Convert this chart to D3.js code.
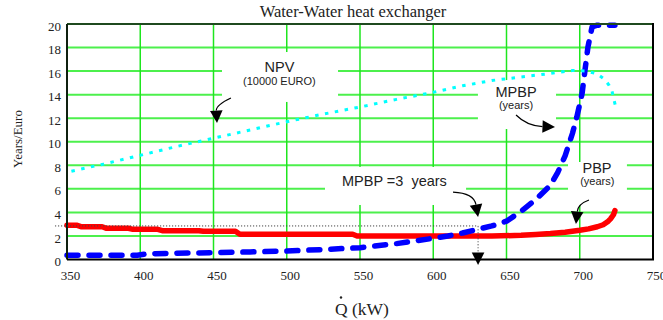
<!DOCTYPE html>
<html><head><meta charset="utf-8">
<script src="https://cdn.jsdelivr.net/npm/d3@7"></script>
<style>body{margin:0;background:#fff} svg{display:block}
.serif{font-family:"Liberation Serif","Times New Roman",serif}
.sans{font-family:"Liberation Sans",Arial,sans-serif}
</style>
</head><body><svg id="c" width="663" height="320"></svg>
<script>
// ---- data ----
const xTicks = [350, 400, 450, 500, 550, 600, 650, 700, 750];
const yTicks = [0, 2, 4, 6, 8, 10, 12, 14, 16, 18, 20];

const npvQ = [353, 375, 400, 425, 450, 475, 500, 525, 550, 575, 600, 620, 640, 660, 680, 695, 705, 712, 717, 720, 722, 723.5, 725];
const npvV = [7.5, 8.1, 8.85, 9.6, 10.3, 11.0, 11.7, 12.35, 12.95, 13.6, 14.2, 14.75, 15.2, 15.5, 15.8, 16.05, 16.0, 15.75, 15.3, 14.8, 14.3, 13.5, 12.7];

const mpbpQ = [350, 375, 398, 405, 420, 450, 475, 500, 525, 550, 575, 600, 610, 620, 630, 640, 650, 660, 670, 680, 685, 690, 695, 698, 701.6, 703.6, 705.6, 708.4, 712, 718, 724];
const mpbpV = [0.36, 0.36, 0.36, 0.48, 0.52, 0.58, 0.64, 0.72, 0.85, 1.0, 1.35, 1.8, 2.0, 2.25, 2.55, 2.85, 3.25, 4.1, 5.1, 6.3, 7.4, 8.8, 10.7, 12.1, 14.1, 16.1, 18.05, 19.75, 19.9, 19.9, 19.9];

const pbpQ = [350, 357, 360, 374, 377, 392, 395, 412, 415, 440, 443, 465, 468, 545, 548, 600, 640, 660, 670, 680, 690, 700, 706, 712, 716, 719, 721, 723, 724];
const pbpV = [2.9, 2.9, 2.78, 2.78, 2.65, 2.65, 2.56, 2.56, 2.45, 2.45, 2.4, 2.4, 2.15, 2.15, 2.0, 2.0, 2.0, 2.05, 2.12, 2.2, 2.32, 2.48, 2.6, 2.78, 2.95, 3.2, 3.45, 3.8, 4.15];

const mpbpTarget = 2.85;   // dotted reference level
const mpbpTargetQ = 630.6; // Q where MPBP reaches it

// ---- setup ----
const svg = d3.select("#c");
const x = d3.scaleLinear().domain([350, 750]).range([67, 653]);
const y = d3.scaleLinear().domain([0, 20]).range([259.5, 24]);

// gridlines
svg.append("g").selectAll("line").data(yTicks.filter(v => v > 0 && v < 20)).join("line")
  .attr("x1", x(350)).attr("x2", x(750)).attr("y1", d => y(d)).attr("y2", d => y(d))
  .attr("stroke", "#4cf04c").attr("stroke-width", 2);
svg.append("g").selectAll("line").data(xTicks.filter(v => v > 350 && v < 750)).join("line")
  .attr("y1", y(0)).attr("y2", y(20)).attr("x1", d => x(d)).attr("x2", d => x(d))
  .attr("stroke", "#1ee61e").attr("stroke-width", 1.5);

// white label boxes (hide gridlines)
const boxes = [
  [455.8, 535, 17.62, 13.38],
  [630.5, 683.8, 15.24, 11.08],
  [526.1, 622.4, 7.86, 4.63],
  [692, 732.2, 8.28, 4.54]
];
svg.append("g").selectAll("rect").data(boxes).join("rect")
  .attr("x", d => x(d[0])).attr("width", d => x(d[1]) - x(d[0]))
  .attr("y", d => y(d[2])).attr("height", d => y(d[3]) - y(d[2]))
  .attr("fill", "#fff");

// series
const line = d3.line().x(d => x(d[0])).y(d => y(d[1]));
svg.append("path").datum(d3.zip(pbpQ, pbpV)).attr("d", line)
  .attr("fill", "none").attr("stroke", "#ff0000").attr("stroke-width", 5.5)
  .attr("stroke-linejoin", "round").attr("stroke-linecap", "round");
svg.append("path").datum(d3.zip(mpbpQ, mpbpV)).attr("d", line)
  .attr("fill", "none").attr("stroke", "#0000ff").attr("stroke-width", 5.5)
  .attr("stroke-dasharray", "11,11").attr("stroke-linecap", "round").attr("stroke-linejoin", "round");
svg.append("path").datum(d3.zip(npvQ, npvV)).attr("d", line)
  .attr("fill", "none").attr("stroke", "#00ffff").attr("stroke-width", 3)
  .attr("stroke-dasharray", "3.5,6.5");

// frame
svg.append("line").attr("x1", x(350)).attr("x2", x(750)).attr("y1", y(20)).attr("y2", y(20)).attr("stroke", "#1f4a1f").attr("stroke-width", 2);
svg.append("line").attr("x1", x(350)).attr("x2", x(350)).attr("y1", y(20)).attr("y2", y(0)).attr("stroke", "#0f200f").attr("stroke-width", 2);
svg.append("line").attr("x1", x(750)).attr("x2", x(750)).attr("y1", y(20) - 1).attr("y2", y(0)).attr("stroke", "#000").attr("stroke-width", 2);
svg.append("line").attr("x1", x(350)).attr("x2", x(750) + 1).attr("y1", y(0)).attr("y2", y(0)).attr("stroke", "#000").attr("stroke-width", 2);

// axes tick labels
const gx = svg.append("g").attr("transform", `translate(0,${y(0)})`)
  .call(d3.axisBottom(x).tickValues(xTicks).tickSize(0).tickPadding(11).tickFormat(d3.format("d")));
gx.select(".domain").remove();
gx.attr("font-family", null).attr("font-size", null);
gx.selectAll("text").attr("class", "serif").style("font-size", "13px").attr("fill", "#222").attr("dx", 3);
const gy = svg.append("g").attr("transform", `translate(${x(350)},0)`)
  .call(d3.axisLeft(y).tickValues(yTicks).tickSize(0).tickPadding(6).tickFormat(d3.format("d")));
gy.select(".domain").remove();
gy.attr("font-family", null).attr("font-size", null);
gy.selectAll("text").attr("class", "serif").style("font-size", "13px").attr("fill", "#222").attr("dy", "0.47em");

// titles
svg.append("text").attr("class", "serif").attr("x", 353).attr("y", 17).attr("text-anchor", "middle")
  .style("font-size", "16.5px").attr("fill", "#222").text("Water-Water heat exchanger");
svg.append("text").attr("class", "serif").attr("transform", "translate(21.5,139) rotate(-90)").attr("text-anchor", "middle")
  .style("font-size", "13px").attr("fill", "#222").text("Years/Euro");
svg.append("text").attr("class", "serif").attr("x", 335).attr("y", 315)
  .style("font-size", "17.5px").attr("fill", "#222").text("Q (kW)");
svg.append("circle").attr("cx", 341).attr("cy", 297.5).attr("r", 1.2).attr("fill", "#222");

// annotation labels
function label(q, v, txt, size, anchor) {
  svg.append("text").attr("class", "sans").attr("x", x(q)).attr("y", y(v)).attr("text-anchor", anchor || "middle")
    .style("font-size", size + "px").attr("fill", "#222")
    .style("white-space", "pre").text(txt);
}
label(495, 15.92, "NPV", 14.5);
label(495, 14.82, "(10000 EURO)", 11);
label(656.5, 13.8, "MPBP", 14.5);
label(656.5, 12.78, "(years)", 11);
label(537.7, 6.24, "MPBP =3  years", 14.5, "start");
label(711.8, 7.37, "PBP", 14.5);
label(712, 6.33, "(years)", 11);

// arrows
function arrow(s, c, t, dashed) {
  const sx = x(s[0]), sy = y(s[1]), cx = x(c[0]), cy = y(c[1]), tx = x(t[0]), ty = y(t[1]);
  let dx = tx - cx, dy = ty - cy; const L = Math.hypot(dx, dy); dx /= L; dy /= L;
  const hl = 12.5, hw = 6.3;
  const bx = tx - dx * hl, by = ty - dy * hl;
  const p = d3.path(); p.moveTo(sx, sy); p.quadraticCurveTo(cx, cy, bx, by);
  svg.append("path").attr("d", p.toString()).attr("fill", "none")
    .attr("stroke", dashed ? "#444" : "#000").attr("stroke-width", dashed ? 1 : 1.2)
    .attr("stroke-dasharray", dashed ? "1.2,1.8" : null);
  svg.append("path").attr("d", `M${tx},${ty}L${bx - dy * hw},${by + dx * hw}L${bx + dy * hw},${by - dx * hw}Z`).attr("fill", "#000");
}
arrow([461.9, 13.72], [451.7, 13.12], [452.4, 11.59]);
arrow([656.5, 12.27], [664.0, 11.34], [683.1, 11.25]);
arrow([613.5, 5.73], [627.8, 5.65], [630.6, 3.61]);
arrow([706.3, 5.05], [698.8, 4.71], [697.4, 3.01]);

// dotted reference lines
svg.append("line").attr("x1", x(341.8)).attr("x2", x(mpbpTargetQ)).attr("y1", y(mpbpTarget)).attr("y2", y(mpbpTarget))
  .attr("stroke", "#444").attr("stroke-width", 1).attr("stroke-dasharray", "1.2,1.8");
arrow([mpbpTargetQ, mpbpTarget], [mpbpTargetQ, 1], [mpbpTargetQ, -0.47], true);
</script></body></html>
